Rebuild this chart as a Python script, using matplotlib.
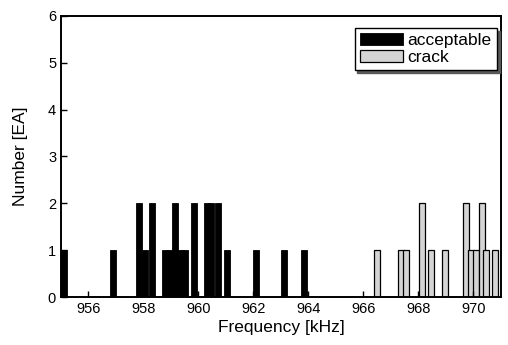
import matplotlib
matplotlib.use("Agg")
import matplotlib.pyplot as plt

# bar centres (kHz) and counts
acc_freq = [955.1, 956.9, 957.83, 958.06, 958.3, 958.78, 958.95, 959.14, 959.36,
            959.5, 959.83, 960.3, 960.44, 960.72, 961.04, 962.1, 963.12, 963.83]
acc_count = [1, 1, 2, 1, 2, 1, 1, 2, 1,
             1, 2, 2, 2, 2, 1, 1, 1, 1]

crack_freq = [966.48, 967.35, 967.56, 968.13, 968.45, 968.96,
              969.72, 969.93, 970.11, 970.3, 970.45, 970.8]
crack_count = [1, 1, 1, 2, 1, 1,
               2, 1, 1, 2, 1, 1]

xticks = [956, 958, 960, 962, 964, 966, 968, 970]
yticks = [0, 1, 2, 3, 4, 5, 6]

plt.rcParams['font.family'] = ['Liberation Sans', 'DejaVu Sans']

fig = plt.figure(figsize=(5.08, 3.45), dpi=100)
ax = fig.add_axes([0.120, 0.139, 0.866, 0.815])

bar_w = 0.22
ax.bar(acc_freq, acc_count, width=bar_w, color='black', edgecolor='black',
       linewidth=0.6, label='acceptable')
ax.bar(crack_freq, crack_count, width=bar_w, color='#d4d4d4', edgecolor='black',
       linewidth=0.9, label='crack')

ax.set_xlim(955, 971)
ax.set_ylim(0, 6)
ax.set_xticks(xticks)
ax.set_yticks(yticks)
ax.tick_params(direction='in', length=4, width=1, labelsize=10.5)
for s in ax.spines.values():
    s.set_linewidth(1.4)

ax.set_xlabel('Frequency [kHz]', fontsize=12.5, labelpad=3)
ax.set_ylabel('Number [EA]', fontsize=12.5, labelpad=14)

leg = ax.legend(loc='upper right', bbox_to_anchor=(0.991, 0.957), borderaxespad=0,
                fontsize=12.5, frameon=True, fancybox=False,
                shadow={'color': '0.35', 'alpha': 1, 'ox': 2, 'oy': -2},
                edgecolor='black', framealpha=1, handlelength=2.5,
                handleheight=0.7, handletextpad=0.25, labelspacing=0.1,
                borderpad=0.3)
leg.get_frame().set_linewidth(1.0)

fig.savefig('out.png', dpi=100)
